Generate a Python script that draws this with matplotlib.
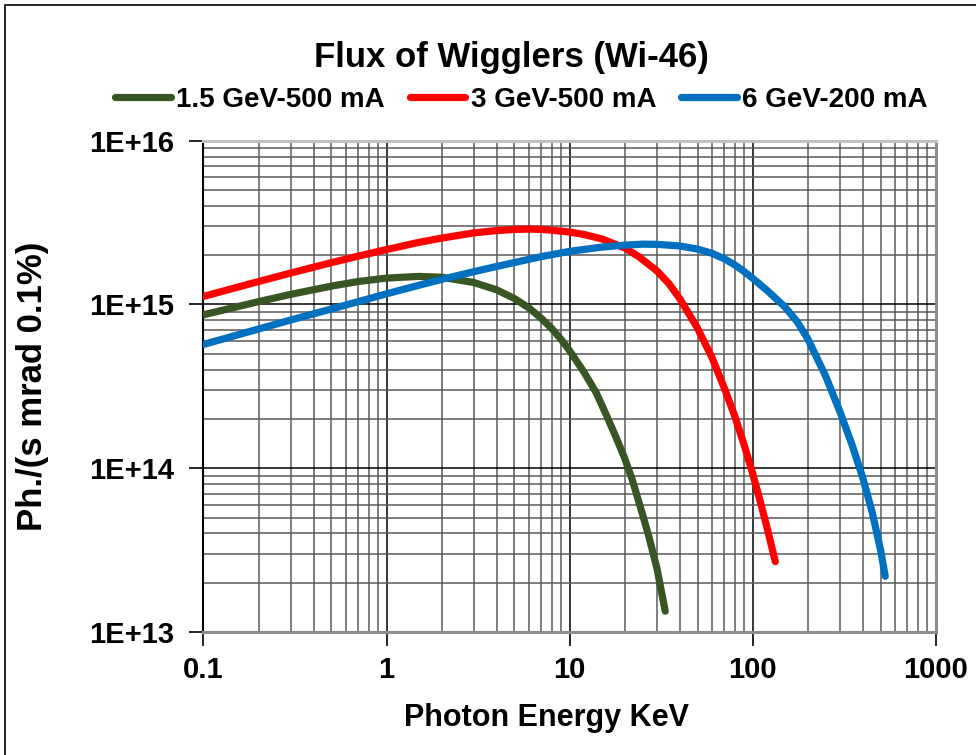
import numpy as np
import matplotlib
matplotlib.use("Agg")
import matplotlib.pyplot as plt
from matplotlib.ticker import LogLocator, FixedLocator, FixedFormatter, NullFormatter
from matplotlib.patches import Rectangle

plt.rcParams["font.family"] = ["Liberation Sans", "DejaVu Sans"]
plt.rcParams["font.weight"] = "bold"

# photon energy (keV) vs flux, one series per ring setting
e_15 = [0.1, 0.2, 0.3, 0.5, 0.7, 1, 1.5, 2, 3, 4, 5, 6, 7, 8, 9, 10,
        12, 14, 16, 18, 20, 22, 25, 27, 30, 33.3]
f_15 = [8.65e14, 1.04e15, 1.153e15, 1.294e15, 1.38e15, 1.449e15, 1.483e15,
        1.466e15, 1.361e15, 1.227e15, 1.086e15, 9.51e14, 8.24e14, 7.11e14,
        6.11e14, 5.22e14, 3.85e14, 2.88e14, 2.07e14, 1.53e14, 1.15e14, 8.5e13,
        5.25e13, 3.89e13, 2.45e13, 1.34e13]

e_3 = [0.1, 0.2, 0.3, 0.5, 0.7, 1, 1.5, 2, 3, 4, 5, 6, 7, 8, 10, 12, 15, 20,
       24, 30, 35, 40, 50, 60, 70, 80, 90, 100, 110, 120, 133]
f_3 = [1.12e15, 1.38e15, 1.556e15, 1.80e15, 1.972e15, 2.163e15, 2.393e15,
       2.541e15, 2.735e15, 2.825e15, 2.871e15, 2.884e15, 2.871e15, 2.838e15,
       2.767e15, 2.673e15, 2.512e15, 2.213e15, 1.95e15, 1.603e15, 1.334e15,
       1.084e15, 7.16e14, 4.73e14, 3.09e14, 2.07e14, 1.38e14, 9.29e13,
       6.28e13, 4.32e13, 2.69e13]

e_6 = [0.1, 0.2, 0.3, 0.5, 0.7, 1, 1.5, 2, 3, 4, 5, 7, 10, 15, 20, 25, 30,
       40, 50, 60, 70, 80, 90, 100, 120, 150, 175, 200, 250, 300, 350, 400,
       450, 500, 530]
f_6 = [5.70e14, 7.08e14, 8.04e14, 9.38e14, 1.04e15, 1.161e15, 1.309e15,
       1.422e15, 1.585e15, 1.706e15, 1.803e15, 1.959e15, 2.109e15, 2.239e15,
       2.301e15, 2.333e15, 2.328e15, 2.275e15, 2.178e15, 2.051e15, 1.901e15,
       1.742e15, 1.585e15, 1.445e15, 1.216e15, 9.66e14, 7.85e14, 6.17e14,
       3.67e14, 2.21e14, 1.38e14, 8.71e13, 5.37e13, 3.16e13, 2.19e13]

series = ["1.5 GeV-500 mA", "3 GeV-500 mA", "6 GeV-200 mA"]
colors = ["#375623", "#FF0000", "#0070C0"]

x_ticks = [0.1, 1, 10, 100, 1000]
x_ticklabels = ["0.1", "1", "10", "100", "1000"]
y_ticks = [1e13, 1e14, 1e15, 1e16]
y_ticklabels = ["1E+13", "1E+14", "1E+15", "1E+16"]

fig = plt.figure(figsize=(9.76, 7.55), dpi=100)
ax = fig.add_axes([0.2085, 0.1629, 0.7502, 0.6508])

for xs, ys, name, col in zip([e_15, e_3, e_6], [f_15, f_3, f_6], series, colors):
    ax.plot(xs, ys, color=col, lw=5.2, label=name,
            solid_capstyle="round", solid_joinstyle="round", zorder=3)

ax.set_xscale("log")
ax.set_yscale("log")
ax.set_xlim(0.1, 1000)
ax.set_ylim(1e13, 1e16)

ax.xaxis.set_major_locator(FixedLocator(x_ticks))
ax.xaxis.set_major_formatter(FixedFormatter(x_ticklabels))
ax.yaxis.set_major_locator(FixedLocator(y_ticks))
ax.yaxis.set_major_formatter(FixedFormatter(y_ticklabels))
ax.xaxis.set_minor_locator(LogLocator(base=10, subs=np.arange(2, 10)))
ax.yaxis.set_minor_locator(LogLocator(base=10, subs=np.arange(2, 10)))
ax.xaxis.set_minor_formatter(NullFormatter())
ax.yaxis.set_minor_formatter(NullFormatter())

ax.grid(which="major", color="black", lw=1.1)
ax.grid(which="minor", color="#5a5a5a", lw=1.1)
ax.set_axisbelow(True)

ax.tick_params(which="major", length=10, width=1.2, color="black", labelsize=21)
ax.tick_params(axis="y", which="major", pad=11)
ax.tick_params(axis="x", which="major", pad=7)
ax.tick_params(which="minor", length=0)
for lab in ax.get_xticklabels() + ax.get_yticklabels():
    lab.set_fontweight("bold")

ax.spines["left"].set_color("black")
ax.spines["left"].set_linewidth(1.5)
ax.spines["bottom"].set_color("#8c8c8c")
ax.spines["bottom"].set_linewidth(2.2)
ax.spines["right"].set_color("#8c8c8c")
ax.spines["right"].set_linewidth(2.2)
ax.spines["top"].set_color("#c0c0c0")
ax.spines["top"].set_linewidth(2.2)

fig.text(0.524, 1 - 57 / 755, "Flux of Wigglers (Wi-46)", ha="center",
         va="center", fontsize=25, fontweight="bold")
fig.text(546 / 976, 1 - 718 / 755, "Photon Energy KeV", ha="center",
         va="center", fontsize=22, fontweight="bold")
fig.text(33 / 976, 1 - 386 / 755, "Ph./(s mrad 0.1%)", ha="center",
         va="center", rotation=90, fontsize=25, fontweight="bold")

fig.legend(loc="center", bbox_to_anchor=(0.5343, 1 - 100 / 755), ncol=3,
           frameon=False, handlelength=2.0, handletextpad=0.2,
           columnspacing=0.9, borderaxespad=0,
           prop={"weight": "bold", "size": 20})

# chart-area frame
fig.patches.append(Rectangle((4.5 / 976, -0.05), 1.2, 1.05 - 5 / 755,
                             transform=fig.transFigure, fill=False,
                             edgecolor="black", lw=1.2))

fig.savefig("out.png", dpi=100)
